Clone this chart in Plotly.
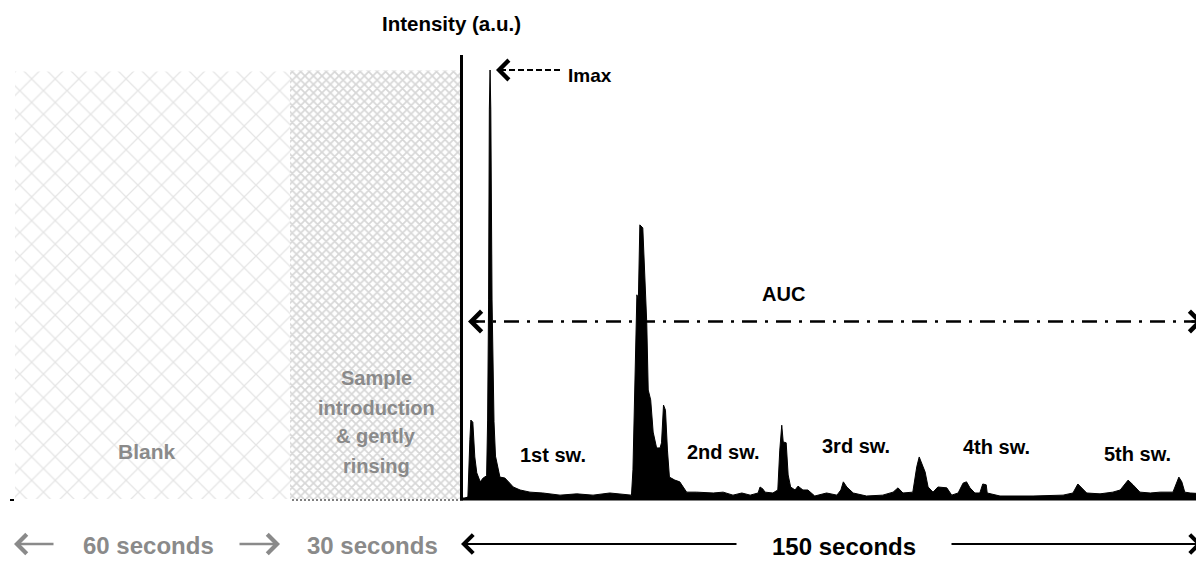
import plotly.graph_objects as go

# ---------------- data ----------------
# signal trace: time after sample introduction (s) and intensity (a.u., Imax = 100)
time_s = [0.4, 1.4, 1.8, 2.0, 2.4, 2.8, 3.2, 3.9, 4.5, 5.2, 5.4, 5.6, 5.75, 5.9, 6.05, 6.3, 6.7, 7.0,
          7.9, 8.9, 9.9, 10.6, 12.0, 14.0, 16.6, 20.1, 23.5, 26.8, 30.2, 33.7, 34.6, 34.9, 35.3,
          35.7, 36.0, 36.3, 36.9, 37.1, 37.3, 37.7, 38.0, 38.5, 39.0, 39.7, 40.4, 40.7, 41.1,
          41.5, 41.9, 42.3, 43.4, 44.4, 45.1, 45.8, 47.8, 49.9, 51.2, 53.2, 55.2, 57.0, 58.7,
          60.3, 60.7, 61.3, 61.7, 63.3, 64.3, 64.7, 65.1, 65.4, 66.0, 66.4, 66.9, 67.8, 68.4,
          69.4, 70.4, 71.8, 74.2, 76.3, 77.1, 77.6, 78.3, 79.6, 82.3, 85.6, 87.7, 88.7, 89.7,
          91.7, 92.5, 93.0, 93.5, 94.2, 94.8, 95.8, 96.8, 98.6, 99.6, 100.9, 101.9, 102.6,
          103.3, 104.3, 105.3, 105.9, 106.6, 106.8, 109.4, 116.1, 122.2, 124.2, 125.2, 126.0,
          127.0, 129.7, 132.3, 133.8, 135.4, 136.4, 137.8, 139.9, 141.9, 144.5, 145.7, 146.3,
          146.9, 148.0, 150.0, 150.8]
intensity = [0.0, 0.5, 13.8, 18.4, 17.9, 9.8, 6.1, 4.0, 4.9, 5.4, 18.4, 46.4, 90.7, 100.0, 90.7, 46.4, 18.0, 10.0,
             5.1, 4.9, 3.7, 2.8, 2.1, 1.6, 1.4, 0.9, 1.2, 0.9, 1.4, 0.9, 0.9, 6.8, 28.4,
             47.6, 46.4, 63.9, 63.2, 58.0, 51.7, 41.0, 25.4, 23.1, 15.6, 11.9, 11.9, 13.1, 21.9,
             20.7, 11.4, 5.1, 4.4, 4.0, 2.8, 1.6, 1.6, 1.4, 1.4, 1.6, 0.9, 1.4, 0.9,
             1.4, 2.8, 2.3, 1.6, 1.4, 2.1, 11.4, 17.2, 13.3, 13.1, 5.6, 2.8, 2.1, 3.0,
             2.1, 2.1, 0.7, 1.4, 0.9, 2.1, 4.0, 2.8, 1.4, 0.7, 0.9, 1.6, 2.6, 1.4,
             1.6, 7.5, 9.8, 8.4, 6.3, 2.8, 1.6, 2.8, 2.6, 0.9, 1.4, 3.7, 4.0,
             2.6, 1.4, 1.4, 3.5, 3.3, 1.4, 0.7, 0.7, 0.9, 1.4, 3.5, 2.6,
             1.4, 1.2, 1.6, 2.1, 4.4, 3.3, 1.6, 1.4, 1.6, 1.6, 5.1, 4.0,
             1.6, 1.4, 1.2, 1.2]

blank_label = "Blank"
sample_label_lines = ["Sample", "introduction", "&amp; gently", "rinsing"]
duration_labels = ["60 seconds", "30 seconds", "150 seconds"]
sweep_labels = ["1st sw.", "2nd sw.", "3rd sw.", "4th sw.", "5th sw."]
axis_title = "Intensity (a.u.)"
imax_label = "Imax"
auc_label = "AUC"

# ---------------- layout geometry (screen pixels -> data units) ----------------
OFF = 8                   # page body margin
W, H = 1204 - OFF, 561 - OFF
PX0, SX = 461.0, 4.927    # screen pixel of t = 0, pixels per second
PY0, SY = 499.0, 4.29     # screen pixel of baseline, pixels per intensity unit


def X(px):
    return (px - PX0) / SX


def Y(py):
    return (PY0 - py) / SY


FONT = "Liberation Sans, Arial, sans-serif"
GREY = "#8a8a8a"

fig = go.Figure()

# Blank phase (coarse lattice)
bx0, bx1, btop = X(15), X(290), Y(71.5)
fig.add_trace(go.Scatter(
    x=[bx0, bx1, bx1, bx0, bx0], y=[0, 0, btop, btop, 0], mode="none", fill="toself",
    fillcolor="white",
    fillpattern=dict(shape="x", size=16.7, solidity=0.15, fgcolor="#cccccc", bgcolor="white"),
    hoverinfo="skip", showlegend=False))

# Sample introduction phase (fine lattice)
sx0, sx1, stop = X(290), X(460), Y(70.5)
fig.add_trace(go.Scatter(
    x=[sx0, sx1, sx1, sx0, sx0], y=[0, 0, stop, stop, 0], mode="none", fill="toself",
    fillcolor="white",
    fillpattern=dict(shape="x", size=6, solidity=0.5, fgcolor="#b0b0b0", bgcolor="white"),
    hoverinfo="skip", showlegend=False))

# signal
fig.add_trace(go.Scatter(
    x=time_s, y=intensity, mode="lines", fill="tozeroy",
    line=dict(color="black", width=1), fillcolor="black",
    hoverinfo="skip", showlegend=False))

shapes = []
# vertical intensity axis
shapes.append(dict(type="line", xref="x", yref="y", x0=X(461.5), x1=X(461.5), y0=Y(500.5), y1=Y(55),
                   line=dict(color="black", width=3)))
# baseline
shapes.append(dict(type="line", xref="x", yref="y", x0=X(460), x1=X(1204), y0=Y(499), y1=Y(499),
                   line=dict(color="black", width=3)))
# dotted edge under sample zone
shapes.append(dict(type="line", xref="x", yref="y", x0=X(292), x1=X(460), y0=Y(500), y1=Y(500),
                   line=dict(color="black", width=1, dash="2px,2px")))
# tiny mark at far left
shapes.append(dict(type="line", xref="x", yref="y", x0=X(10), x1=X(14), y0=Y(500), y1=Y(500),
                   line=dict(color="black", width=2)))
# AUC dash-dot line
shapes.append(dict(type="line", xref="x", yref="y", x0=X(470), x1=X(1200), y0=Y(321.5), y1=Y(321.5),
                   line=dict(color="black", width=2.5, dash="15px,8px,3px,8px")))
# Imax dashed leader
shapes.append(dict(type="line", xref="x", yref="y", x0=X(500), x1=X(560), y0=Y(70), y1=Y(70),
                   line=dict(color="black", width=2, dash="6px,3px")))

annotations = []


def head(tip_px, tail_px, y_px, color, width, size):
    annotations.append(dict(
        x=X(tip_px), y=Y(y_px), ax=X(tail_px), ay=Y(y_px), xref="x", yref="y", axref="x", ayref="y",
        text="", showarrow=True, arrowhead=4, arrowsize=size, arrowwidth=width, arrowcolor=color,
        standoff=0, startstandoff=0))


# AUC heads
head(468, 480, 321.5, "black", 2.5, 1.6)
head(1203, 1190, 321.5, "black", 2.5, 1.6)
# Imax head
head(496, 506, 70, "black", 2, 1.9)
# bottom arrows
head(14, 55, 544, GREY, 2.5, 1.5)
head(280, 238, 544, GREY, 2.5, 1.5)
head(461, 738, 544, "black", 2, 1.8)
head(1202, 950, 544, "black", 2, 1.8)


def label(text, xp, yp, size, color="black"):
    annotations.append(dict(
        x=X(xp), y=Y(yp), xref="x", yref="y", text="<b>" + text + "</b>", showarrow=False,
        xanchor="center", yanchor="middle", align="center",
        font=dict(family=FONT, size=size, color=color)))


label(axis_title, 451, 23, 20.5)
label(imax_label, 590, 75, 19)
label(auc_label, 783, 294, 20)
label(blank_label, 147, 451, 21, GREY)
for line_text, yp in zip(sample_label_lines, [378, 408, 436, 466]):
    label(line_text, 376, yp, 20, GREY)
sweep_pos = [(553, 455), (723, 452), (856, 446), (996, 447), (1137, 454)]
for t, (xp, yp) in zip(sweep_labels, sweep_pos):
    label(t, xp, yp, 20)
label(duration_labels[0], 148, 545, 24, GREY)
label(duration_labels[1], 372, 545, 24, GREY)
label(duration_labels[2], 844, 546, 24)

fig.update_layout(
    width=W, height=H, margin=dict(l=0, r=0, t=0, b=0),
    paper_bgcolor="white", plot_bgcolor="white",
    xaxis=dict(range=[X(OFF), X(1204)], visible=False, fixedrange=True),
    yaxis=dict(range=[Y(561), Y(OFF)], visible=False, fixedrange=True),
    shapes=shapes, annotations=annotations, showlegend=False,
)

fig.write_html("out.html")
